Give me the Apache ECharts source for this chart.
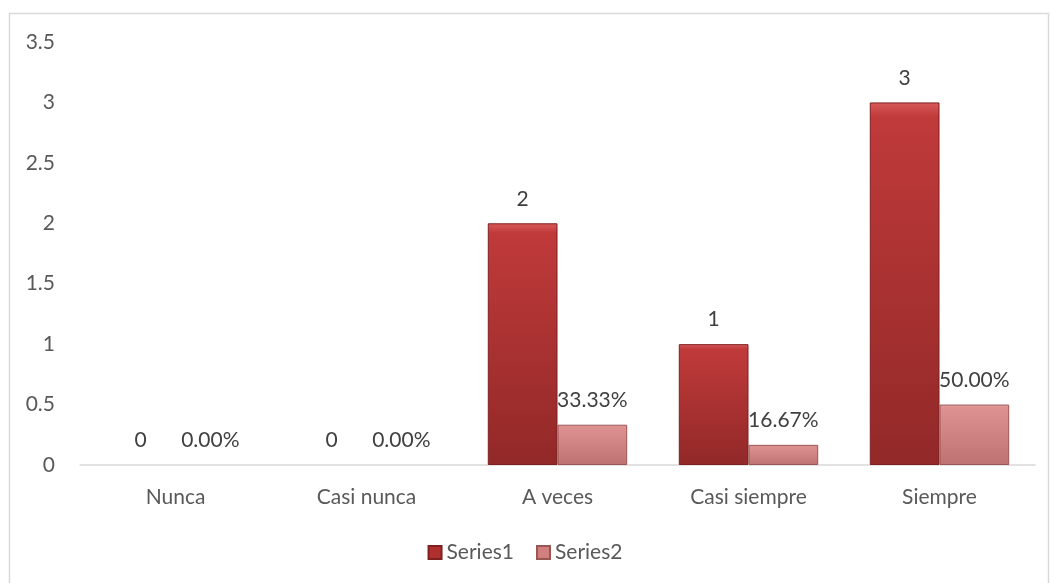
<!DOCTYPE html>
<html>
<head>
<meta charset="utf-8">
<script src="https://cdn.jsdelivr.net/npm/echarts@6/dist/echarts.min.js"></script>
<style>
  html, body { margin: 0; padding: 0; background: #ffffff; }
  #chart { width: 1050px; height: 583px; }
</style>
</head>
<body>
<div id="chart"></div>
<script>
// Category labels along the x axis
const categories = ['Nunca', 'Casi nunca', 'A veces', 'Casi siempre', 'Siempre'];
// Counts per answer
const series1 = [0, 0, 2, 1, 3];
// Share of answers (fraction of the total, shown as percent)
const series2 = [0, 0, 0.3333, 0.1667, 0.5];
// Value axis ticks
const yMin = 0, yMax = 3.5, yStep = 0.5;

const textColor = '#595959';
const fontFamily = 'Lato, "Open Sans", sans-serif';
const fontSize = 21;

function bevel(top, mid, bottom) {
  return new echarts.graphic.LinearGradient(0, 0, 0, 1, [
    { offset: 0, color: top },
    { offset: 0.04, color: mid },
    { offset: 1, color: bottom }
  ]);
}

// zero-height bars get no outline so nothing shows on the axis
function withOutline(values) {
  return values.map(v => v === 0 ? { value: v, itemStyle: { borderWidth: 0 } } : v);
}

const chart = echarts.init(document.getElementById('chart'), null, { renderer: 'canvas' });
chart.setOption({
  backgroundColor: '#ffffff',
  animation: false,
  textStyle: { fontFamily: fontFamily },
  graphic: [{
    type: 'rect',
    shape: { x: 9.5, y: 13.5, width: 1039, height: 590 },
    style: { fill: 'none', stroke: '#d9d9d9', lineWidth: 1.5 },
    silent: true
  }],
  grid: { left: 80, right: 15, top: 42, bottom: 118, containLabel: false },
  legend: {
    top: 537,
    left: 'center',
    itemWidth: 13,
    itemHeight: 13,
    itemGap: 22,
    textStyle: { color: textColor, fontSize: fontSize, fontFamily: fontFamily },
    data: [
      { name: 'Series1', icon: 'rect', itemStyle: { color: '#b03030' } },
      { name: 'Series2', icon: 'rect', itemStyle: { color: '#d27f7f' } }
    ]
  },
  xAxis: {
    type: 'category',
    data: categories,
    axisLine: { show: true, lineStyle: { color: '#d9d9d9', width: 1.5 } },
    axisTick: { show: false },
    axisLabel: { color: textColor, fontSize: fontSize, margin: 22, fontFamily: fontFamily },
    splitLine: { show: false }
  },
  yAxis: {
    type: 'value',
    min: yMin,
    max: yMax,
    interval: yStep,
    axisLine: { show: false },
    axisTick: { show: false },
    splitLine: { show: false },
    axisLabel: { color: textColor, fontSize: fontSize, margin: 25, fontFamily: fontFamily }
  },
  series: [
    {
      name: 'Series1',
      type: 'bar',
      data: withOutline(series1),
      barGap: '0%',
      barCategoryGap: '27%',
      itemStyle: {
        color: bevel('#d85a5a', '#c03a3a', '#922828'),
        borderColor: '#7e2020',
        borderWidth: 1
      },
      label: {
        show: true,
        position: 'top',
        distance: 14,
        color: '#404040',
        fontSize: fontSize,
        fontFamily: fontFamily,
        formatter: (p) => String(p.value)
      }
    },
    {
      name: 'Series2',
      type: 'bar',
      data: withOutline(series2),
      itemStyle: {
        color: bevel('#f0b0b0', '#de9292', '#bf7272'),
        borderColor: '#9a5555',
        borderWidth: 1
      },
      label: {
        show: true,
        position: 'top',
        distance: 14,
        color: '#404040',
        fontSize: fontSize,
        fontFamily: fontFamily,
        formatter: (p) => (p.value * 100).toFixed(2) + '%'
      }
    }
  ]
});
</script>
</body>
</html>
